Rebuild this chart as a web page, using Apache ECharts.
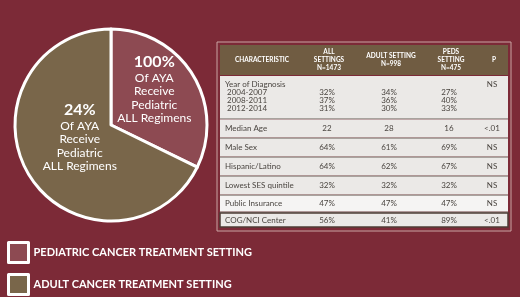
<!DOCTYPE html>
<html>
<head>
<meta charset="utf-8">
<script src="https://cdn.jsdelivr.net/npm/echarts@6/dist/echarts.min.js"></script>
<style>
  html, body { margin: 0; padding: 0; background: #7c2a37; }
  #demo { width: 520px; height: 297px; }
</style>
</head>
<body>
<div id="demo"></div>
<script>
// pie data
const settings = ['PEDIATRIC CANCER TREATMENT SETTING', 'ADULT CANCER TREATMENT SETTING']
const patients = [475, 998]
const pctLabels = ['100%', '24%']
const sliceColors = ['#8d4a52', '#79664a']

// table data
const headers = ['CHARACTERISTIC', 'ALL\nSETTINGS\nN=1473', 'ADULT SETTING\nN=998', 'PEDS\nSETTING\nN=475', 'P']
const characteristics = ['Year of Diagnosis\n 2004-2007\n 2008-2011\n 2012-2014', 'Median Age', 'Male Sex', 'Hispanic/Latino', 'Lowest SES quintile', 'Public Insurance', 'COG/NCI Center']
const allSettings = ['\n32%\n37%\n31%', '22', '64%', '64%', '32%', '47%', '56%']
const adultSetting = ['\n34%\n36%\n30%', '28', '61%', '62%', '32%', '47%', '41%']
const pedsSetting = ['\n27%\n40%\n33%', '16', '69%', '67%', '32%', '47%', '89%']
const pValues = ['NS', '<.01', 'NS', 'NS', 'NS', 'NS', '<.01']

const font = 'Lato, "DejaVu Sans", sans-serif'

// table layout
const tx = 220, tw = 288, headTop = 45, headH = 30
const rowH = [42, 18, 17.5, 17.5, 17.5, 15.5, 14]
const colX = [225, 327, 389, 449, 492]
const columns = [characteristics, allSettings, adultSetting, pedsSetting, pValues]

let graphics = []
graphics.push({ type: 'rect', shape: { x: 217, y: 42, width: 294, height: 189 }, style: { fill: 'none', stroke: '#c9a3a3', lineWidth: 1 } })
graphics.push({ type: 'rect', shape: { x: tx, y: headTop, width: tw, height: headH }, style: { fill: '#705c42' } })
headers.forEach((h, i) => {
  graphics.push({
    type: 'text',
    x: i === 0 ? 262 : colX[i] + 2, y: headTop + headH / 2,
    style: { text: h, fill: '#fff', font: 'bold 6.5px ' + font, align: 'center', verticalAlign: 'middle', lineHeight: 8 }
  })
})
let y = headTop + headH + 1
rowH.forEach((h, r) => {
  const last = r === rowH.length - 1
  graphics.push({
    type: 'rect', shape: { x: tx, y: y, width: tw, height: h },
    style: { fill: r === 5 ? '#f5f4f3' : '#ebe9e7', stroke: last ? '#4e3c36' : null, lineWidth: last ? 1.5 : 0 }
  })
  columns.forEach((col, c) => {
    graphics.push({
      type: 'text',
      x: colX[c], y: r === 0 ? y + 4 : y + h / 2,
      style: {
        text: col[r], fill: '#4a4540', font: '8px ' + font,
        align: c === 0 ? 'left' : 'center', verticalAlign: r === 0 ? 'top' : 'middle', lineHeight: 8.2
      }
    })
  })
  y += h
  if (!last) {
    graphics.push({ type: 'rect', shape: { x: tx, y: y, width: tw, height: 1.5 }, style: { fill: '#a8a39e' } })
    y += 1.5
  }
})

// nudges for the two slice labels
const labelShift = [[0, -9], [12, -15]]

const option = {
  backgroundColor: '#7c2a37',
  animation: false,
  color: sliceColors,
  legend: {
    orient: 'vertical',
    left: 7,
    top: 241,
    padding: 0,
    itemWidth: 20,
    itemHeight: 20,
    itemGap: 9,
    icon: 'rect',
    itemStyle: { borderColor: '#fff', borderWidth: 3 },
    textStyle: { color: '#fff', fontWeight: 'bold', fontSize: 11, fontFamily: font },
    data: settings
  },
  series: [
    {
      type: 'pie',
      center: [111, 125],
      radius: 96,
      startAngle: 90,
      clockwise: true,
      itemStyle: { borderColor: '#fff', borderWidth: 3 },
      label: {
        show: true,
        position: 'inside',
        formatter: p => '{big|' + pctLabels[p.dataIndex] + '}\n{small|Of AYA\nReceive\nPediatric\nALL Regimens}',
        rich: {
          big: { fontSize: 16, fontWeight: 'bold', color: '#fff', fontFamily: font, lineHeight: 18 },
          small: { fontSize: 12, color: '#fff', fontFamily: font, lineHeight: 13.5 }
        }
      },
      labelLayout: p => ({ dx: labelShift[p.dataIndex][0], dy: labelShift[p.dataIndex][1] }),
      labelLine: { show: false },
      emphasis: { disabled: true },
      data: settings.map((s, i) => ({ name: s, value: patients[i] }))
    }
  ],
  graphic: graphics
}

const myCharts = echarts.init(document.getElementById('demo'))
myCharts.setOption(option)
</script>
</body>
</html>
